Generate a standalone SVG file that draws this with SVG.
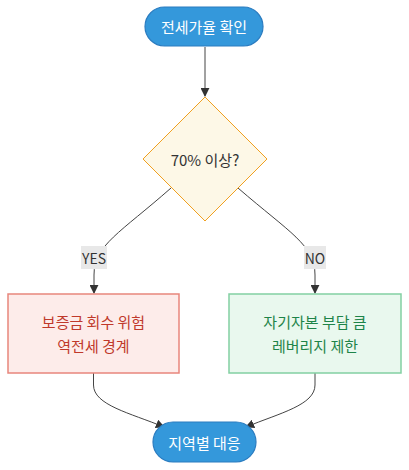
<svg xmlns="http://www.w3.org/2000/svg" width="409" height="470" viewBox="0 0 409 470">
<style>
text{font-family:"Noto Sans CJK KR","Noto Sans",sans-serif;font-size:15px;text-anchor:middle;dominant-baseline:central}
.term rect{fill:#3498db;stroke:#2b7cc0;stroke-width:1.2}
.term text{fill:#ffffff}
.edge{fill:none;stroke:#444;stroke-width:1}
.lbl rect{fill:#e8e8e8}
.lbl text{fill:#333;font-size:14px}
</style>
<defs>
<marker id="arr" viewBox="0 0 10 10" refX="9" refY="5" markerWidth="9" markerHeight="9" markerUnits="userSpaceOnUse" orient="auto">
<path d="M0,0 L10,5 L0,10 z" fill="#333"/>
</marker>
</defs>
<g id="connectors">
<path class="edge" d="M205,47 L205,96" marker-end="url(#arr)"/>
<path class="edge" d="M171,188 C120,233 94,245 94,275 L94,293" marker-end="url(#arr)"/>
<path class="edge" d="M238,188 C290,233 315,245 315,275 L315,293" marker-end="url(#arr)"/>
<path class="edge" d="M93.5,373 L93.5,385 C93.5,405 130,413 164,427" marker-end="url(#arr)"/>
<path class="edge" d="M315,373 L315,385 C315,405 280,413 246,427" marker-end="url(#arr)"/>
<g class="lbl"><rect x="81" y="246" width="26" height="23"/><text x="94" y="257.5">YES</text></g>
<g class="lbl"><rect x="304" y="246" width="22" height="23"/><text x="315" y="257.5">NO</text></g>
</g>
<g id="start" class="term"><rect x="145" y="7" width="118" height="39" rx="19.5"/><text x="204" y="26.5">전세가율 확인</text></g>
<g id="decision"><polygon points="205,97 267,159 205,221 143,159" fill="#fdf8e7" stroke="#f0a020" stroke-width="1"/><text x="205" y="159" fill="#333">70% 이상?</text></g>
<g id="yes"><rect x="8" y="294" width="171" height="79" fill="#fdecea" stroke="#e8867c" stroke-width="1.5"/><text x="93.5" y="321.5" fill="#c0392b">보증금 회수 위험</text><text x="93.5" y="345.5" fill="#c0392b">역전세 경계</text></g>
<g id="no"><rect x="229" y="294" width="172" height="79" fill="#e9f8ee" stroke="#82d0a2" stroke-width="1.5"/><text x="315" y="321.5" fill="#1e8449">자기자본 부담 큼</text><text x="315" y="345.5" fill="#1e8449">레버리지 제한</text></g>
<g id="end" class="term"><rect x="153" y="422" width="103" height="40" rx="20"/><text x="204.5" y="442">지역별 대응</text></g>
</svg>
